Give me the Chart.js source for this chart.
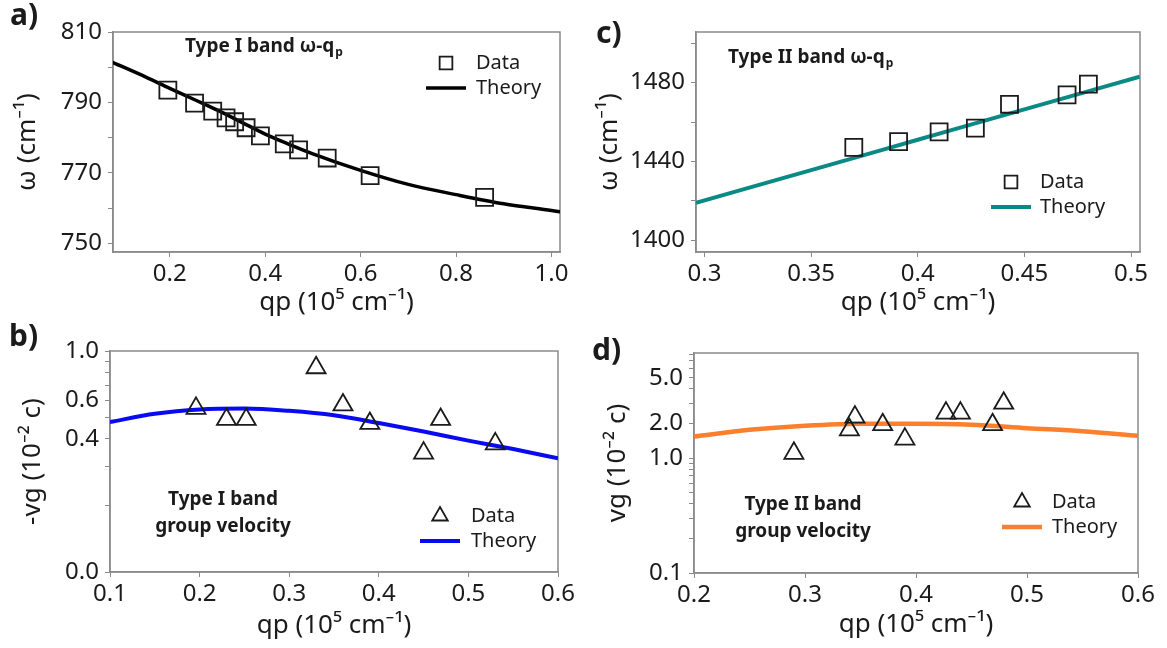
<!DOCTYPE html>
<html>
<head>
<meta charset="utf-8">
<script src="https://cdn.jsdelivr.net/npm/chart.js@4.4.1/dist/chart.umd.min.js"></script>
<style>
  body { margin: 0; background: #fff; }
  #page { position: relative; width: 1167px; height: 648px; overflow: hidden; }
  .panel { position: absolute; }
</style>
</head>
<body>
<div id="page">
  <div class="panel" style="left:0;top:0;width:580px;height:320px"><canvas id="chartA"></canvas></div>
  <div class="panel" style="left:580px;top:0;width:587px;height:320px"><canvas id="chartC"></canvas></div>
  <div class="panel" style="left:0;top:320px;width:580px;height:328px"><canvas id="chartB"></canvas></div>
  <div class="panel" style="left:580px;top:320px;width:587px;height:328px"><canvas id="chartD"></canvas></div>
</div>
<script>
// a) Type I band dispersion
const aDataQ = [0.196, 0.252, 0.29, 0.318, 0.336, 0.36, 0.39, 0.44, 0.47, 0.53, 0.62, 0.86];
const aDataW = [793.5, 789.8, 787.5, 785.6, 784.5, 782.8, 780.5, 778.2, 776.5, 774.2, 769.2, 763.0];
const aTheoryQ = [0.08, 0.15, 0.2, 0.25, 0.3, 0.35, 0.4, 0.45, 0.5, 0.6, 0.7, 0.8, 0.9, 1.0, 1.02];
const aTheoryW = [801.4, 797.2, 794.0, 790.9, 787.8, 784.4, 781.0, 778.1, 775.4, 770.7, 766.7, 763.8, 761.2, 759.3, 758.9];
const aXTicks = [0.2, 0.4, 0.6, 0.8, 1.0];
const aXLabels = ["0.2", "0.4", "0.6", "0.8", "1.0"];
const aYTicks = [750, 770, 790, 810];
const aYLabels = ["750", "770", "790", "810"];
const aYMinor = [760, 780, 800];

// c) Type II band dispersion
const cDataQ = [0.37, 0.391, 0.41, 0.427, 0.443, 0.47, 0.48];
const cDataW = [1447.1, 1450.0, 1455.0, 1456.9, 1469.0, 1473.8, 1479.2];
const cTheoryQ = [0.296, 0.35, 0.4, 0.45, 0.504];
const cTheoryW = [1419.0, 1435.6, 1451.0, 1466.4, 1483.0];
const cXTicks = [0.3, 0.35, 0.4, 0.45, 0.5];
const cXLabels = ["0.3", "0.35", "0.4", "0.45", "0.5"];
const cYTicks = [1400, 1440, 1480];
const cYLabels = ["1400", "1440", "1480"];
const cYMinor = [1420, 1460, 1500];

// b) Type I band group velocity
const bDataQ = [0.196, 0.23, 0.252, 0.33, 0.36, 0.39, 0.45, 0.469, 0.53];
const bDataV = [0.55, 0.49, 0.49, 0.84, 0.57, 0.47, 0.345, 0.49, 0.38];
const bTheoryQ = [0.1, 0.15, 0.2, 0.25, 0.3, 0.35, 0.4, 0.45, 0.5, 0.55, 0.6];
const bTheoryV = [0.477, 0.52, 0.544, 0.549, 0.536, 0.512, 0.472, 0.432, 0.393, 0.36, 0.327];
const bXTicks = [0.1, 0.2, 0.3, 0.4, 0.5, 0.6];
const bXLabels = ["0.1", "0.2", "0.3", "0.4", "0.5", "0.6"];
const bYTicks = [0.1, 0.4, 0.6, 1.0];
const bYLabels = ["0.0", "0.4", "0.6", "1.0"];
const bYMinor = [0.2, 0.3, 0.5, 0.7, 0.8, 0.9];

// d) Type II band group velocity
const dDataQ = [0.29, 0.34, 0.345, 0.37, 0.39, 0.427, 0.44, 0.469, 0.479];
const dDataV = [1.1, 1.76, 2.27, 1.95, 1.46, 2.46, 2.46, 1.95, 3.0];
const dTheoryQ = [0.2, 0.25, 0.3, 0.35, 0.4, 0.45, 0.5, 0.55, 0.6];
const dTheoryV = [1.54, 1.76, 1.91, 1.99, 1.99, 1.95, 1.82, 1.71, 1.56];
const dXTicks = [0.2, 0.3, 0.4, 0.5, 0.6];
const dXLabels = ["0.2", "0.3", "0.4", "0.5", "0.6"];
const dYTicks = [0.1, 1.0, 2.0, 5.0];
const dYLabels = ["0.1", "1.0", "2.0", "5.0"];
const dYMinor = [0.2, 0.3, 0.4, 0.5, 0.6, 0.7, 0.8, 0.9, 3, 4, 6, 7, 8];

const FONT = "'Noto Sans', 'Open Sans', sans-serif";
const TEXT = "#1b1b1b";
const FRAME = "#8a8a8a";

function pts(xs, ys) {
  return xs.map(function (x, i) { return { x: x, y: ys[i] }; });
}

function axis(o) {
  return {
    type: o.type || "linear",
    position: o.position,
    min: o.min,
    max: o.max,
    afterBuildTicks: function (scale) {
      const all = o.ticks.concat(o.minor || []).sort(function (p, q) { return p - q; });
      scale.ticks = all.map(function (v) { return { value: v }; });
    },
    afterFit: function (scale) {
      if (o.position === "left") scale.width = o.size;
      else scale.height = o.size;
    },
    ticks: {
      autoSkip: false,
      maxRotation: 0,
      color: TEXT,
      padding: o.tickPad,
      font: { family: FONT, size: 24 },
      callback: function (value) {
        const i = o.ticks.findIndex(function (t) { return Math.abs(t - value) < 1e-9; });
        return i >= 0 ? o.labels[i] : "";
      }
    },
    grid: { drawOnChartArea: false, color: FRAME, tickColor: FRAME, tickLength: 5 },
    border: { color: FRAME, width: 1.5 },
    title: {
      display: true,
      text: o.title,
      color: TEXT,
      font: { family: FONT, size: 26 },
      padding: o.titlePad
    }
  };
}

// box around the plot area
const framePlugin = {
  id: "frame",
  beforeDatasetsDraw: function (chart) {
    const a = chart.chartArea;
    const ctx = chart.ctx;
    ctx.save();
    ctx.strokeStyle = FRAME;
    ctx.lineWidth = 1.5;
    ctx.strokeRect(a.left, a.top, a.right - a.left, a.bottom - a.top);
    ctx.restore();
  }
};

function drawMarker(ctx, style, x, y, r) {
  ctx.beginPath();
  if (style === "triangle") {
    ctx.moveTo(x, y - r);
    ctx.lineTo(x + r * Math.sin(2 * Math.PI / 3), y - r * Math.cos(2 * Math.PI / 3));
    ctx.lineTo(x + r * Math.sin(4 * Math.PI / 3), y - r * Math.cos(4 * Math.PI / 3));
    ctx.closePath();
  } else {
    const s = r * Math.SQRT1_2;
    ctx.rect(x - s, y - s, 2 * s, 2 * s);
  }
  ctx.stroke();
}

// panel letter, note inside the plot, and the legend
const decorPlugin = {
  id: "decor",
  afterDraw: function (chart, args, o) {
    const ctx = chart.ctx;
    ctx.save();
    ctx.fillStyle = TEXT;
    ctx.textBaseline = "middle";
    ctx.textAlign = "left";
    ctx.font = "bold 30px " + FONT;
    ctx.fillText(o.letter, o.letterX, o.letterY);

    o.notes.forEach(function (n) {
      ctx.font = "bold 19px " + FONT;
      const w = ctx.measureText(n.text).width;
      let subW = 0;
      if (n.sub) {
        ctx.font = "bold 12px " + FONT;
        subW = ctx.measureText(n.sub).width + 1;
      }
      const x = n.center ? n.x - (w + subW) / 2 : n.x;
      ctx.font = "bold 19px " + FONT;
      ctx.fillText(n.text, x, n.y);
      if (n.sub) {
        ctx.font = "bold 12px " + FONT;
        ctx.fillText(n.sub, x + w + 1, n.y + 6);
      }
    });

    const L = o.legend;
    const data = chart.data.datasets[0];
    const theory = chart.data.datasets[1];
    ctx.strokeStyle = data.pointBorderColor;
    ctx.lineWidth = 1.8;
    drawMarker(ctx, data.pointStyle, L.x, L.y, L.r);
    ctx.strokeStyle = theory.borderColor;
    ctx.lineWidth = theory.borderWidth;
    ctx.beginPath();
    ctx.moveTo(L.x - 20, L.y + L.gap);
    ctx.lineTo(L.x + 20, L.y + L.gap);
    ctx.stroke();
    ctx.font = "20px " + FONT;
    ctx.fillText(data.label, L.textX, L.y);
    ctx.fillText(theory.label, L.textX, L.y + L.gap);
    ctx.restore();
  }
};

function makePanel(id, p) {
  return new Chart(document.getElementById(id), {
    type: "scatter",
    data: {
      datasets: [
        {
          label: "Data",
          data: p.data,
          pointStyle: p.marker,
          pointRadius: p.markerSize,
          pointBorderWidth: 1.8,
          pointBorderColor: TEXT,
          pointBackgroundColor: "rgba(0,0,0,0)",
          showLine: false
        },
        {
          label: "Theory",
          data: p.theory,
          showLine: true,
          borderColor: p.color,
          borderWidth: p.lineWidth,
          pointRadius: 0,
          cubicInterpolationMode: "monotone"
        }
      ]
    },
    options: {
      responsive: true,
      maintainAspectRatio: false,
      animation: false,
      events: [],
      layout: { padding: p.padding },
      scales: { x: p.x, y: p.y },
      plugins: {
        legend: { display: false },
        tooltip: { enabled: false },
        decor: p.decor
      }
    },
    plugins: [framePlugin, decorPlugin]
  });
}

makePanel("chartA", {
  data: pts(aDataQ, aDataW),
  theory: pts(aTheoryQ, aTheoryW),
  marker: "rect", markerSize: 12,
  color: "#000000", lineWidth: 3.5,
  padding: { top: 32, right: 20, left: 0, bottom: 0 },
  x: axis({ position: "bottom", min: 0.081, max: 1.018, ticks: aXTicks, labels: aXLabels,
            size: 68, tickPad: 3, title: "qp (10\u2075 cm\u207B\u00B9)", titlePad: { bottom: 2 } }),
  y: axis({ position: "left", min: 747.5, max: 810, ticks: aYTicks, labels: aYLabels, minor: aYMinor,
            size: 113, tickPad: 6, title: "\u03C9 (cm\u207B\u00B9)", titlePad: { top: 12 } }),
  decor: {
    letter: "a)", letterX: 10, letterY: 16,
    notes: [{ text: "Type I band \u03C9-q", sub: "p", x: 185, y: 47 }],
    legend: { x: 446, y: 63, r: 9, gap: 25, textX: 476 }
  }
});

makePanel("chartC", {
  data: pts(cDataQ, cDataW),
  theory: pts(cTheoryQ, cTheoryW),
  marker: "rect", markerSize: 12,
  color: "#0b8a85", lineWidth: 4,
  padding: { top: 32, right: 27, left: 0, bottom: 0 },
  x: axis({ position: "bottom", min: 0.296, max: 0.5042, ticks: cXTicks, labels: cXLabels,
            size: 68, tickPad: 3, title: "qp (10\u2075 cm\u207B\u00B9)", titlePad: { bottom: 2 } }),
  y: axis({ position: "left", min: 1394, max: 1505.7, ticks: cYTicks, labels: cYLabels, minor: cYMinor,
            size: 116, tickPad: 6, title: "\u03C9 (cm\u207B\u00B9)", titlePad: { top: 14 } }),
  decor: {
    letter: "c)", letterX: 16, letterY: 34,
    notes: [{ text: "Type II band \u03C9-q", sub: "p", x: 148, y: 58 }],
    legend: { x: 431, y: 182, r: 9, gap: 25, textX: 460 }
  }
});

makePanel("chartB", {
  data: pts(bDataQ, bDataV),
  theory: pts(bTheoryQ, bTheoryV),
  marker: "triangle", markerSize: 11,
  color: "#0a0af2", lineWidth: 4,
  padding: { top: 31, right: 22, left: 0, bottom: 0 },
  x: axis({ position: "bottom", min: 0.1, max: 0.6, ticks: bXTicks, labels: bXLabels,
            size: 76, tickPad: 3, title: "qp (10\u2075 cm\u207B\u00B9)", titlePad: { bottom: 7 } }),
  y: axis({ type: "logarithmic", position: "left", min: 0.1, max: 1.0, ticks: bYTicks, labels: bYLabels, minor: bYMinor,
            size: 110, tickPad: 6, title: "-vg (10\u207B\u00B2 c)", titlePad: { top: 17 } }),
  decor: {
    letter: "b)", letterX: 9, letterY: 17,
    notes: [
      { text: "Type I band", x: 223, y: 180, center: true },
      { text: "group velocity", x: 223, y: 207, center: true }
    ],
    legend: { x: 440, y: 196, r: 9, gap: 25, textX: 471 }
  }
});

makePanel("chartD", {
  data: pts(dDataQ, dDataV),
  theory: pts(dTheoryQ, dTheoryV),
  marker: "triangle", markerSize: 11,
  color: "#fb7f2c", lineWidth: 4.5,
  padding: { top: 33, right: 29, left: 0, bottom: 0 },
  x: axis({ position: "bottom", min: 0.2, max: 0.6, ticks: dXTicks, labels: dXLabels,
            size: 75, tickPad: 3, title: "qp (10\u2075 cm\u207B\u00B9)", titlePad: { bottom: 8 } }),
  y: axis({ type: "logarithmic", position: "left", min: 0.1, max: 8.2, ticks: dYTicks, labels: dYLabels, minor: dYMinor,
            size: 114, tickPad: 6, title: "vg (10\u207B\u00B2 c)", titlePad: { top: 22 } }),
  decor: {
    letter: "d)", letterX: 12, letterY: 31,
    notes: [
      { text: "Type II band", x: 223, y: 185, center: true },
      { text: "group velocity", x: 223, y: 212, center: true }
    ],
    legend: { x: 442, y: 182, r: 9, gap: 25, textX: 472 }
  }
});
</script>
</body>
</html>
